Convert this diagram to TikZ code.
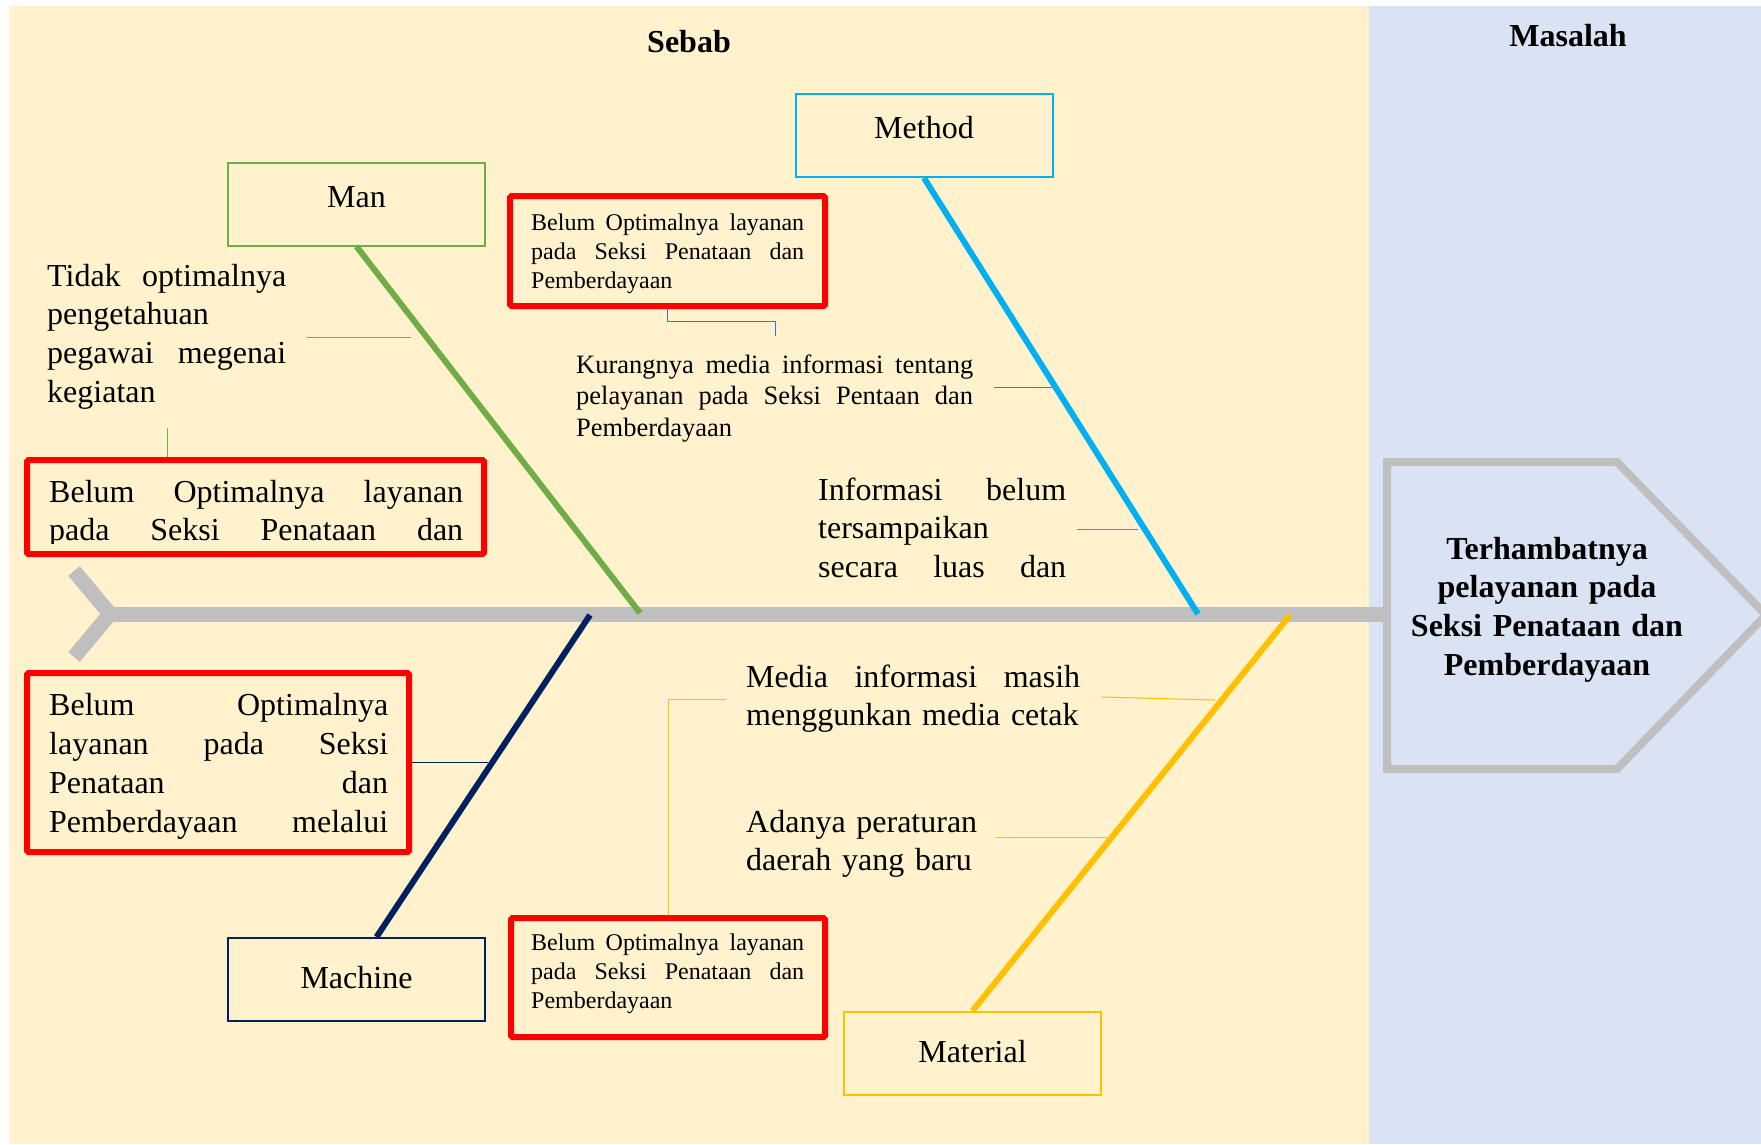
\documentclass[tikz,border=0pt]{standalone}
\usepackage{fontspec}
\setmainfont{Liberation Serif}
\definecolor{bgY}{HTML}{FFF2CC}
\definecolor{bgB}{HTML}{DAE3F3}
\definecolor{spineG}{HTML}{BFBFBF}
\definecolor{manG}{HTML}{70AD47}
\definecolor{methC}{HTML}{00B0F0}
\definecolor{machN}{HTML}{002060}
\definecolor{matY}{HTML}{FFC000}
\definecolor{linkB}{HTML}{4472C4}
\newcommand{\jl}[2]{\leavevmode\hbox to #1{#2}}
\begin{document}
\begin{tikzpicture}[x=1pt,y=-1pt,
  catbox/.style={draw, line width=2pt, minimum width=257pt, minimum height=83pt, inner sep=0pt, text height=22pt, font=\fontsize{32}{38}\selectfont},
  redbox/.style={draw=red, line width=6pt, rounded corners=1.5pt, inner sep=0pt},
  bone/.style={line width=6pt},
  spineline/.style={line width=15pt, spineG},
  linkline/.style={line width=1pt},
  txt/.style={anchor=base west, inner sep=0pt, align=left},
  bigfont/.style={font=\fontsize{32}{38.7}\selectfont},
  smallfont/.style={font=\fontsize{24}{29}\selectfont},
  midfont/.style={font=\fontsize{26.5}{31.5}\selectfont}
]
\useasboundingbox (0,0) rectangle (1761,1144);
% backgrounds
\fill[white] (0,0) rectangle (1761,1144);
\fill[bgY] (9,6) rectangle (1369,1144);
\fill[bgB] (1369,6) rectangle (1761,1144);
% titles
\node[anchor=base, inner sep=0pt, font=\bfseries\fontsize{32}{38}\selectfont] (sebab) at (689,52) {Sebab};
\node[anchor=base, inner sep=0pt, font=\bfseries\fontsize{32}{38}\selectfont] (masalah) at (1568,46) {Masalah};
% spine and tail
\coordinate (tailA) at (74,571);
\coordinate (tailV) at (110,614);
\coordinate (tailB) at (74,657);
\coordinate (headL) at (1387,614);
\draw[spineline, line join=miter] (tailA) -- (tailV) -- (tailB);
\draw[spineline] (tailV) -- (headL);
% head
\draw[line width=8pt, spineG, fill=bgB] (1387,462) -- (1617,462) -- (1766,615) -- (1617,769) -- (1387,769) -- cycle;
\node[anchor=base, inner sep=0pt, text width=320pt, align=center, font=\bfseries\fontsize{32}{38.7}\selectfont] (headtext) at (1547,559) {Terhambatnya\\pelayanan pada\\Seksi Penataan dan\\Pemberdayaan};
% category boxes
\node[catbox, draw=manG, text depth=16pt] (man) at (356.5,204) {Man};
\node[catbox, draw=methC, text depth=17pt] (method) at (924,135.5) {Method};
\node[catbox, draw=machN, text depth=5pt] (machine) at (356.5,979.5) {Machine};
\node[catbox, draw=matY, text depth=5pt] (material) at (972.5,1053.5) {Material};
% bones
\coordinate (manS) at (640,613);
\coordinate (methS) at (1198,614);
\coordinate (machS) at (590,615);
\coordinate (matS) at (1290,615);
\draw[bone, manG] (man.south) -- (manS);
\draw[bone, methC] (method.south) -- (methS);
\draw[bone, machN] (machS) -- ([xshift=20pt]machine.north);
\draw[bone, matY] (matS) -- (material.north);
% red boxes
\node[redbox, minimum width=457pt, minimum height=94pt] (r1) at (255.5,507) {};
\node[redbox, minimum width=382pt, minimum height=179pt] (r2) at (218,762.5) {};
\node[redbox, minimum width=315pt, minimum height=110pt] (r3) at (667.5,251) {};
\node[redbox, minimum width=314pt, minimum height=119pt] (r4) at (668,977.5) {};
% texts
\node[txt, text width=239pt, bigfont] (mantext) at (47,286) {\jl{239pt}{Tidak\hfill optimalnya}\\pengetahuan\\\jl{239pt}{pegawai\hfill megenai}\\kegiatan};
\begin{scope}
\clip (30,463) rectangle (481,543);
\node[txt, text width=414pt, bigfont] (r1text) at (49,502) {\jl{414pt}{Belum\hfill Optimalnya\hfill layanan}\\\jl{414pt}{pada\hfill Seksi\hfill Penataan\hfill dan}};
\end{scope}
\node[txt, text width=339pt, font=\fontsize{32}{39}\selectfont] (r2text) at (49,715) {\jl{339pt}{Belum\hfill Optimalnya}\\\jl{339pt}{layanan\hfill pada\hfill Seksi}\\\jl{339pt}{Penataan\hfill dan}\\\jl{339pt}{Pemberdayaan\hfill melalui}};
\node[txt, text width=273pt, smallfont] (r3text) at (531,230) {\jl{273pt}{Belum\hfill Optimalnya\hfill layanan}\\\jl{273pt}{pada\hfill Seksi\hfill Penataan\hfill dan}\\Pemberdayaan};
\node[txt, text width=273pt, smallfont] (r4text) at (531,950) {\jl{273pt}{Belum\hfill Optimalnya\hfill layanan}\\\jl{273pt}{pada\hfill Seksi\hfill Penataan\hfill dan}\\Pemberdayaan};
\node[txt, text width=397pt, midfont] (kurang) at (576,373) {\jl{397pt}{Kurangnya\hfill media\hfill informasi\hfill tentang}\\\jl{397pt}{pelayanan\hfill pada\hfill Seksi\hfill Pentaan\hfill dan}\\Pemberdayaan};
\node[txt, text width=248pt, bigfont] (info) at (818,500) {\jl{248pt}{Informasi\hfill belum}\\tersampaikan\\\jl{248pt}{secara\hfill luas\hfill dan}};
\node[txt, text width=334pt, font=\fontsize{32}{38}\selectfont] (media) at (746,687) {\jl{334pt}{Media\hfill informasi\hfill masih}\\menggunkan media cetak};
\node[txt, text width=334pt, font=\fontsize{32}{38}\selectfont] (adanya) at (746,832) {Adanya peraturan\\daerah yang baru};
% connectors
\coordinate (manL1) at (307,337);
\coordinate (manB1) at (411,337);
\draw[linkline, manG] (manL1) -- (manB1);
\coordinate (manV) at (167,428);
\draw[linkline, manG] (manV) -- (manV |- r1.north);
\coordinate (kTop) at (775,336);
\draw[linkline, linkB] (r3.south) -- ++(0,12) -| (kTop);
\coordinate (kL) at (994,387);
\coordinate (kB) at (1052,387);
\draw[linkline, linkB] (kL) -- (kB);
\coordinate (iL) at (1077,529);
\coordinate (iB) at (1138,529);
\draw[linkline, methC] (iL) -- (iB);
\coordinate (mcB) at (488,762);
\draw[linkline, machN] (r2.east |- mcB) -- (mcB);
\coordinate (mdL) at (726,699);
\draw[linkline, matY] (mdL) -| (r4.north);
\coordinate (mdR) at (1101,697);
\coordinate (mdB) at (1215,700);
\draw[linkline, matY] (mdR) -- (mdB);
\coordinate (adR) at (996,837);
\coordinate (adB) at (1111,837);
\draw[linkline, matY] (adR) -- (adB);
\end{tikzpicture}
\end{document}
